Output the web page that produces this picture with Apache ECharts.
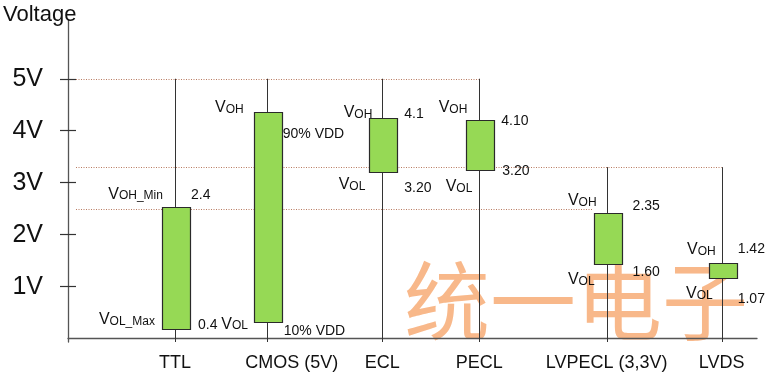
<!DOCTYPE html>
<html><head><meta charset="utf-8">
<script src="https://cdn.jsdelivr.net/npm/echarts@6/dist/echarts.min.js"></script>
<style>html,body{margin:0;padding:0;background:#fff}#c{width:769px;height:378px}</style>
</head><body><div id="c"></div>
<script>
// ---- data ----
const categories = ['TTL', 'CMOS (5V)', 'ECL', 'PECL', 'LVPECL (3,3V)', 'LVDS'];
const boxHigh = [2.53, 4.37, 4.24, 4.21, 2.42, 1.46];
const boxLow  = [0.19, 0.33, 3.20, 3.25, 1.44, 1.18];
const stemTop = [5, 5, 5, 5, 3.3, 3.3];
const yTicks = [1, 2, 3, 4, 5];
const yTickLabels = ['1V', '2V', '3V', '4V', '5V'];
const refLevels = [5, 3.3, 2.5];
const refEndCategory = ['PECL', 'LVDS', 'LVPECL (3,3V)'];
// category slots along the (non-uniform) horizontal scale
const categorySlots = [0.978, 1.817, 2.874, 3.761, 4.925, 5.977];
// annotation texts: category, voltage level, side, text
const annotations = [
  {cat: 0, y: 2.80, side: 'L', dx: -12, text: '{v|V}{s|OH_Min}'},
  {cat: 0, y: 2.80, side: 'R', dx: 16, text: '{n|2.4}'},
  {cat: 0, y: 0.38, side: 'L', dx: -20, text: '{v|V}{s|OL_Max}'},
  {cat: 0, y: 0.30, side: 'R', dx: 23, text: '{n|0.4 }{v|V}{s|OL}'},
  {cat: 1, y: 4.46, side: 'L', dx: -23, text: '{v|V}{s|OH}'},
  {cat: 1, y: 3.98, side: 'R', dx: 16, text: '{n|90% VDD}'},
  {cat: 1, y: 0.19, side: 'R', dx: 17, text: '{n|10% VDD}'},
  {cat: 2, y: 4.36, side: 'L', dx: -10, text: '{v|V}{s|OH}'},
  {cat: 2, y: 4.36, side: 'R', dx: 22, text: '{n|4.1}'},
  {cat: 2, y: 2.99, side: 'L', dx: -17, text: '{v|V}{s|OL}'},
  {cat: 2, y: 2.94, side: 'R', dx: 22, text: '{n|3.20}'},
  {cat: 3, y: 4.46, side: 'L', dx: -12, text: '{v|V}{s|OH}'},
  {cat: 3, y: 4.22, side: 'R', dx: 22, text: '{n|4.10}'},
  {cat: 3, y: 2.94, side: 'L', dx: -7, text: '{v|V}{s|OL}'},
  {cat: 3, y: 3.26, side: 'R', dx: 23, text: '{n|3.20}'},
  {cat: 4, y: 2.67, side: 'L', dx: -10, text: '{v|V}{s|OH}'},
  {cat: 4, y: 2.59, side: 'R', dx: 26, text: '{n|2.35}'},
  {cat: 4, y: 1.15, side: 'L', dx: -12, text: '{v|V}{s|OL}'},
  {cat: 4, y: 1.32, side: 'R', dx: 26, text: '{n|1.60}'},
  {cat: 5, y: 1.73, side: 'L', dx: -6, text: '{v|V}{s|OH}'},
  {cat: 5, y: 1.76, side: 'R', dx: 16, text: '{n|1.42}'},
  {cat: 5, y: 0.88, side: 'L', dx: -9, text: '{v|V}{s|OL}'},
  {cat: 5, y: 0.80, side: 'R', dx: 16, text: '{n|1.07}'}
];

// ---- chart ----
const FONT = '"Liberation Sans", Arial, Helvetica, sans-serif';
const Y_MIN = -0.063, Y_MAX = 6.13, X_MIN = 0, X_MAX = 6.3;
const BOX_W = 28;
const richStyles = {
  v: {fontSize: 16, fontFamily: FONT, fill: '#111', verticalAlign: 'bottom', lineHeight: 18},
  s: {fontSize: 12, fontFamily: FONT, fill: '#111', verticalAlign: 'bottom', lineHeight: 18},
  n: {fontSize: 14, fontFamily: FONT, fill: '#111', verticalAlign: 'bottom', lineHeight: 18}
};

const chart = echarts.init(document.getElementById('c'), null, {renderer: 'canvas'});

const boxData = categories.map((c, i) => [categorySlots[i], boxLow[i], boxHigh[i], stemTop[i]]);
const refData = refLevels.map((v, i) => [categorySlots[categories.indexOf(refEndCategory[i])], v, refEndCategory[i] === 'LVPECL (3,3V)' ? 1 : 0]);
const annData = annotations.map(a => [categorySlots[a.cat], a.y]);

function catIndexOf(v) {
  return categorySlots.findIndex(s => Math.abs(s - v) < 1e-6);
}

chart.setOption({
  animation: false,
  backgroundColor: '#fff',
  grid: {left: 68, right: 12, top: 20, bottom: 36},
  xAxis: {
    type: 'value', min: X_MIN, max: X_MAX,
    splitLine: {show: false},
    axisLine: {show: true, lineStyle: {color: '#555', width: 1.3}},
    axisTick: {show: false},
    axisLabel: {
      customValues: categorySlots,
      margin: 12,
      fontSize: 18, fontFamily: FONT, color: '#111',
      formatter: v => {
        const i = catIndexOf(v);
        if (i < 0) return '';
        return i === 1 ? '{c|' + categories[i] + '}' : categories[i];
      },
      rich: {c: {fontSize: 18, fontFamily: FONT, color: '#111', padding: [0, 0, 0, 50]}}
    }
  },
  yAxis: [{
    type: 'value', min: Y_MIN, max: Y_MAX,
    splitLine: {show: false},
    axisLine: {show: true, lineStyle: {color: '#555', width: 1.3}},
    axisTick: {show: true, length: 8, customValues: yTicks, lineStyle: {color: '#333', width: 1.2}},
    axisLabel: {
      customValues: yTicks, margin: 25,
      fontSize: 25, fontFamily: FONT, color: '#111',
      formatter: v => yTickLabels[yTicks.indexOf(v)] || ''
    }
  }, {
    type: 'value', min: Y_MIN, max: Y_MAX, position: 'left',
    splitLine: {show: false},
    axisLine: {show: false},
    axisTick: {show: true, inside: true, length: 8, customValues: yTicks, lineStyle: {color: '#333', width: 1.2}},
    axisLabel: {show: false}
  }],
  graphic: [
    {type: 'text', left: 3, top: 4, z: 10, style: {text: 'Voltage', font: '22px ' + FONT, fill: '#111'}},
    {type: 'text', left: 404, top: 258, z: -1, style: {text: '统一电子', font: '86px "Noto Sans CJK SC"', fill: '#f8b88a'}}
  ],
  series: [{
    type: 'custom', name: 'ref', z: 1,
    data: refData,
    encode: {x: 0, y: 1},
    renderItem: (params, api) => {
      const xEnd = api.value(0), v = api.value(1), stop = api.value(2);
      const p0 = api.coord([X_MIN, v]);
      const p1 = api.coord([xEnd, v]);
      const y = Math.round(p0[1]) + 0.5;
      return {type: 'line', shape: {x1: p0[0] + 8, y1: y, x2: p1[0] - (stop ? BOX_W / 2 : 0), y2: y},
        style: {stroke: '#b87a60', lineWidth: 1, lineDash: [1, 1.5]}};
    }
  }, {
    type: 'custom', name: 'levels', z: 3,
    data: boxData,
    encode: {x: 0, y: [1, 2, 3]},
    renderItem: (params, api) => {
      const x = api.value(0), lo = api.value(1), hi = api.value(2), top = api.value(3);
      const pTop = api.coord([x, top]);
      const pBot = api.coord([x, Y_MIN]);
      const pHi = api.coord([x, hi]);
      const pLo = api.coord([x, lo]);
      const cx = Math.round(pTop[0]) + 0.5;
      return {type: 'group', children: [
        {type: 'line', shape: {x1: cx, y1: pTop[1], x2: cx, y2: pBot[1]}, style: {stroke: '#333', lineWidth: 1}},
        {type: 'rect', shape: {x: Math.round(cx - BOX_W / 2) + 0.5, y: Math.round(pHi[1]) + 0.5, width: BOX_W, height: Math.round(pLo[1] - pHi[1])},
          style: {fill: '#96d955', stroke: '#2a2a2a', lineWidth: 1.2}}
      ]};
    }
  }, {
    type: 'custom', name: 'annotations', z: 4,
    data: annData,
    encode: {x: 0, y: 1},
    renderItem: (params, api) => {
      const a = annotations[params.dataIndex];
      const p = api.coord([api.value(0), api.value(1)]);
      return {type: 'text', x: p[0] + a.dx, y: p[1],
        style: {text: a.text, rich: richStyles, align: a.side === 'L' ? 'right' : 'left', verticalAlign: 'middle'}};
    }
  }]
});
</script></body></html>
